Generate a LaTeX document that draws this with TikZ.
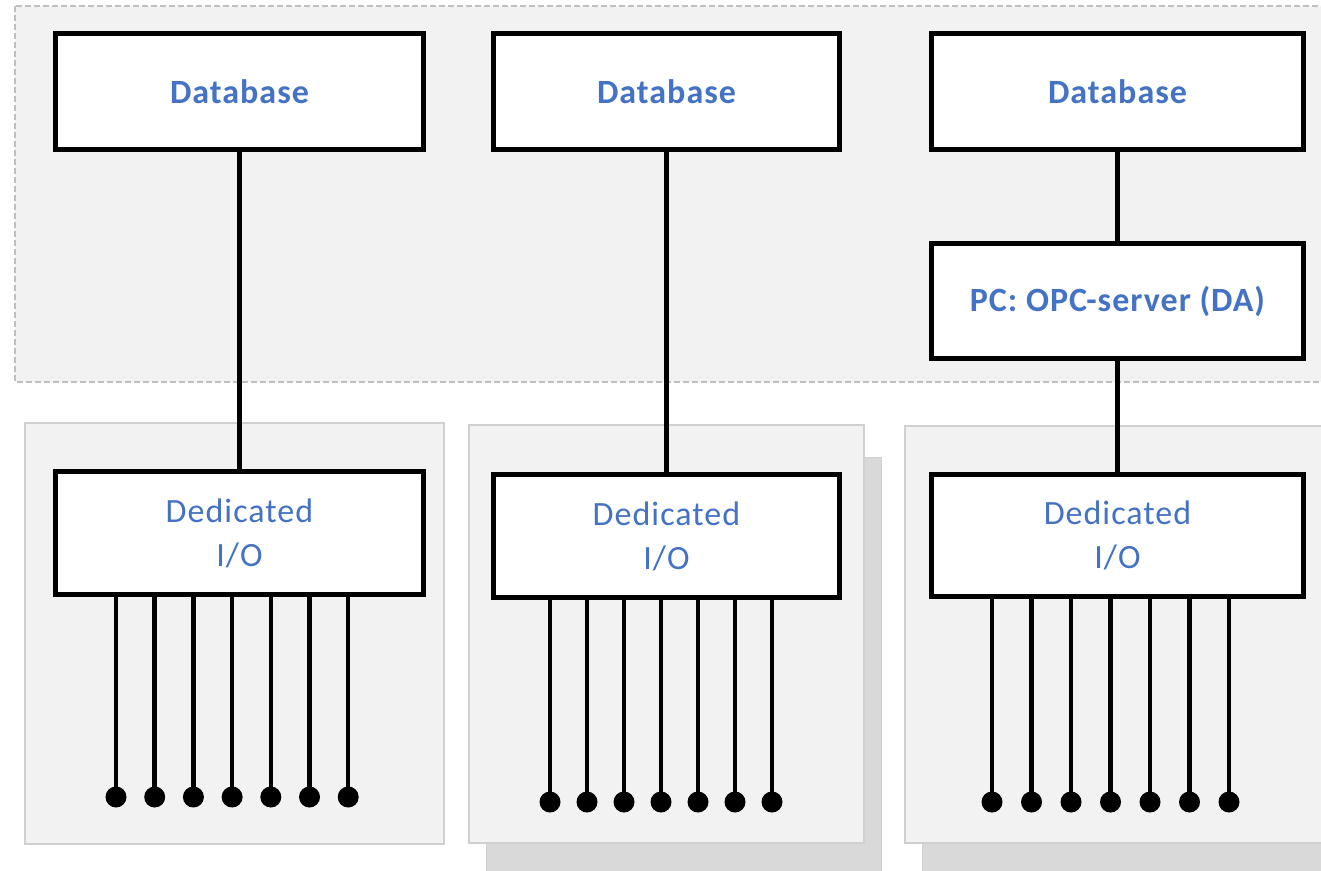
\documentclass[tikz,border=0pt]{standalone}
\usepackage{fontspec}
\setmainfont{Carlito}[LetterSpace=3]
\usepackage{xcolor}
\usepackage{tikz}
\definecolor{zonebg}{HTML}{F2F2F2}
\definecolor{zoneline}{HTML}{BFBFBF}
\definecolor{panelline}{HTML}{D0D0D0}
\definecolor{shadowbg}{HTML}{D9D9D9}
\definecolor{labblue}{HTML}{4472C4}
\tikzset{
  zone/.style={fill=zonebg, draw=zoneline, line width=1.2pt, dash pattern=on 6pt off 3pt},
  panel/.style={fill=zonebg, draw=panelline, line width=1.3pt},
  shade/.style={fill=shadowbg, draw=panelline, line width=1pt},
  box/.style={rectangle, draw=black, fill=white, line width=4.7pt, inner sep=0pt,
    text=labblue, font=\fontsize{34}{44}\selectfont, align=center},
  dbox/.style={box, font=\fontsize{34}{44}\selectfont\bfseries},
  link/.style={draw=black, line width=4.5pt},
  dot/.style={circle, fill=black, inner sep=0pt, minimum size=21pt},
}
\begin{document}
\begin{tikzpicture}[x=1pt, y=-1pt]
  \useasboundingbox (0,0) rectangle (1321,870);
  \clip (0,0) rectangle (1321,870);
  % zones and panels
  \path[zone] (15,6) rectangle (1330,382);
  \path[shade] (486,457) rectangle (881,875);
  \path[shade] (922,457) rectangle (1330,875);
  \path[panel] (25,423) rectangle (444,844);
  \path[panel] (469,425) rectangle (864,843);
  \path[panel] (905,426) rectangle (1330,843);
  % boxes
  \node[dbox, minimum width=368pt, minimum height=116pt] (DB1) at (239.5,91.5) {Database};
  \node[dbox, minimum width=346pt, minimum height=116pt] (DB2) at (666.5,91.5) {Database};
  \node[dbox, minimum width=372pt, minimum height=116pt] (DB3) at (1117.5,91.5) {Database};
  \node[dbox, minimum width=372pt, minimum height=115pt] (PC) at (1117.5,301) {PC: OPC-server (DA)};
  \node[box, minimum width=368pt, minimum height=123pt] (IO1) at (239.5,533) {Dedicated\\I/O};
  \node[box, minimum width=346pt, minimum height=123pt] (IO2) at (666.5,536) {Dedicated\\I/O};
  \node[box, minimum width=372pt, minimum height=122pt] (IO3) at (1117.5,535.5) {Dedicated\\I/O};
  \draw[link] (DB1) -- (IO1);
  \draw[link] (DB2) -- (IO2);
  \draw[link] (DB3) -- (PC);
  \draw[link] (PC) -- (IO3);
  % pins
  \foreach \i in {0,...,6} {
    \node[dot] (a\i) at ({116+38.7*\i},797) {};
    \draw[link] (a\i.center) -- (a\i |- IO1.south);
    \node[dot] (b\i) at ({550+37*\i},802) {};
    \draw[link] (b\i.center) -- (b\i |- IO2.south);
    \node[dot] (c\i) at ({992+39.5*\i},802) {};
    \draw[link] (c\i.center) -- (c\i |- IO3.south);
  }
\end{tikzpicture}
\end{document}
